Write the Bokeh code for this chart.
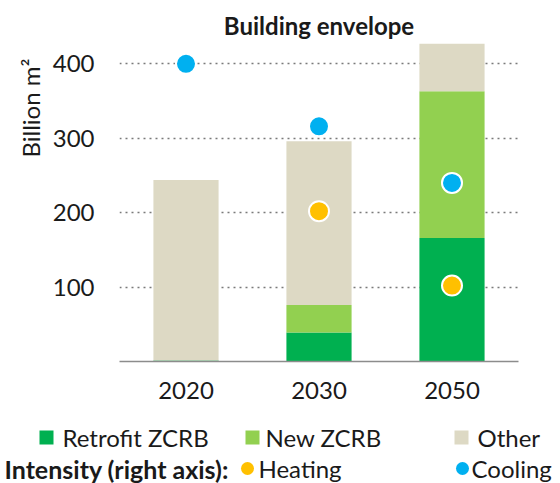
from bokeh.plotting import figure
from bokeh.layouts import column
from bokeh.models import Range1d, FactorRange, FixedTicker, Title
from bokeh.core.properties import value
from bokeh.embed import file_html
from bokeh.resources import INLINE

years = ["2020", "2030", "2050"]
retrofit = [1.5, 39, 166]
new_zcrb = [0, 37, 197]
other = [242.5, 220, 64]
heating = [float("nan"), 202, 102]
cooling = [400, 316, 240]
y_ticks = [100, 200, 300, 400]

legend_labels = ["Retrofit ZCRB", "New ZCRB", "Other"]
intensity_labels = ["Heating", "Cooling"]

FONT = "Lato"
TXT = "#1a1a1a"
GREEN_D = "#00B050"
GREEN_L = "#92D050"
BEIGE = "#DDD9C4"
ORANGE = "#FFC000"
BLUE = "#00B0F0"

p = figure(x_range=FactorRange(*years), y_range=Range1d(0, 430),
           frame_width=399, frame_height=320,
           min_border_left=119, min_border_right=42, min_border_top=41, min_border_bottom=44,
           output_backend="svg", toolbar_location=None, outline_line_color=None)
p.extra_y_ranges = {"intensity": Range1d(0, 430)}

p.title.text = "Building envelope"
p.title.align = "center"
p.title.text_font = FONT
p.title.text_font_size = "24px"
p.title.text_font_style = "bold"
p.title.text_color = TXT
p.title.standoff = 3

ylab = Title(text="Billion m\u00b2", align="right", text_font=FONT, text_font_size="24px",
             text_font_style="normal", text_color=TXT, offset=17)
p.add_layout(ylab, "left")

data = dict(year=years, retrofit=retrofit, new=new_zcrb, other=other,
            heating=heating, cooling=cooling)
p.vbar_stack(["retrofit", "new", "other"], x="year", width=0.49, source=data,
             color=[GREEN_D, GREEN_L, BEIGE], line_color=None)
p.scatter(x="year", y="heating", source=data, size=20, fill_color=ORANGE,
          line_color="white", line_width=2, y_range_name="intensity")
p.scatter(x="year", y="cooling", source=data, size=20, fill_color=BLUE,
          line_color="white", line_width=2, y_range_name="intensity")

p.xgrid.grid_line_color = None
p.ygrid.grid_line_color = "#7a7a7a"
p.ygrid.grid_line_dash = "2 4"
p.ygrid.grid_line_width = 1.6
p.ygrid.level = "underlay"

p.yaxis.ticker = FixedTicker(ticks=y_ticks)
p.yaxis.axis_line_color = None
p.yaxis.major_tick_line_color = None
p.yaxis.minor_tick_line_color = None
p.yaxis.major_label_standoff = 19
p.yaxis.major_label_text_font = FONT
p.yaxis.major_label_text_font_size = "24px"
p.yaxis.major_label_text_color = TXT

p.xaxis.axis_line_color = "#8c8c8c"
p.xaxis.axis_line_width = 1.5
p.xaxis.major_tick_line_color = None
p.xaxis.minor_tick_line_color = None
p.xaxis.major_label_standoff = 14
p.xaxis.major_label_text_font = FONT
p.xaxis.major_label_text_font_size = "24px"
p.xaxis.major_label_text_color = TXT

# ---- legend strip (coordinates = pixels of the strip, y from top) ----
lg = figure(x_range=Range1d(0, 560), y_range=Range1d(78, 0),
            frame_width=560, frame_height=78, min_border=0,
            output_backend="svg", toolbar_location=None, outline_line_color=None)
lg.axis.visible = False
lg.grid.grid_line_color = None
for fig in (p, lg):
    try:
        fig.frame_align = False
    except Exception:
        pass

row1 = 32
row2 = 63
lg.scatter(x=[46, 252, 461], y=[row1] * 3, marker="square", size=14,
           color=[GREEN_D, GREEN_L, BEIGE], line_color=None)
lg.text(x=[62, 265, 477], y=[row1] * 3, text=legend_labels,
        text_font=value(FONT), text_font_size="24px", text_color=TXT,
        text_baseline="middle", text_align="left")
lg.text(x=[4], y=[row2], text=["Intensity  (right axis):"],
        text_font=value(FONT), text_font_size="25px", text_font_style="bold", text_color=TXT,
        text_baseline="middle", text_align="left")
lg.scatter(x=[247, 462], y=[row2] * 2, marker="circle", size=13,
           color=[ORANGE, BLUE], line_color=None)
lg.text(x=[258, 471], y=[row2] * 2, text=intensity_labels,
        text_font=value(FONT), text_font_size="24px", text_color=TXT,
        text_baseline="middle", text_align="left")

layout = column(p, lg, spacing=0)
open("out.html", "w").write(file_html(layout, INLINE))
